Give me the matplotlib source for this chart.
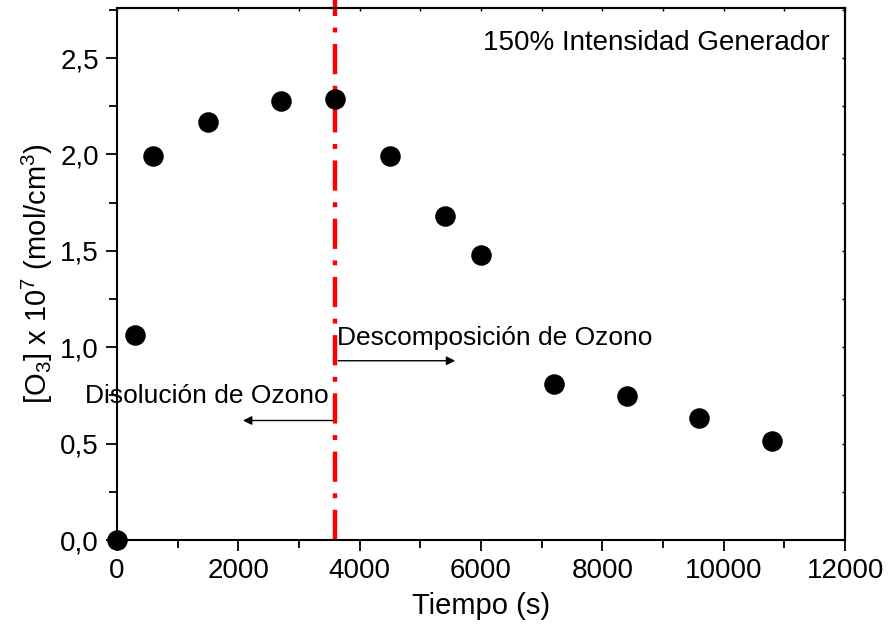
import matplotlib
matplotlib.use("Agg")
import matplotlib.pyplot as plt
from matplotlib.ticker import MultipleLocator, FuncFormatter

# datos
tiempo = [0, 300, 600, 1500, 2700, 3600, 4500, 5400, 6000, 7200, 8400, 9600, 10800]
ozono = [0.0, 1.065, 1.99, 2.17, 2.275, 2.29, 1.99, 1.68, 1.48, 0.81, 0.745, 0.635, 0.515]
t_corte = 3600

plt.rcParams['font.family'] = ['Liberation Sans', 'DejaVu Sans']
plt.rcParams['mathtext.default'] = 'regular'

fig = plt.figure(figsize=(8.89, 6.4), dpi=100)
ax = fig.add_axes([0.1316, 0.15625, 0.819, 0.83125])

ax.scatter(tiempo, ozono, s=190, color='black', zorder=3, clip_on=False)
ax.axvline(t_corte, ymin=0, ymax=1.02, color='red', lw=3.2,
           linestyle=(0, (6.8, 2.6, 1.1, 2.6)), clip_on=False, zorder=2)

ax.annotate('', xy=(5620, 0.93), xytext=(t_corte, 0.93),
            arrowprops=dict(arrowstyle='-|>', color='black', lw=1, mutation_scale=13))
ax.annotate('', xy=(2030, 0.62), xytext=(t_corte, 0.62),
            arrowprops=dict(arrowstyle='-|>', color='black', lw=1, mutation_scale=13))
ax.text(3630, 1.05, 'Descomposición de Ozono', fontsize=19, va='center', ha='left')
ax.text(3480, 0.745, 'Disolución de Ozono', fontsize=19, va='center', ha='right')
ax.text(0.979, 0.934, '150% Intensidad Generador', transform=ax.transAxes,
        fontsize=20, ha='right', va='center')

ax.set_xlim(0, 12000)
ax.set_ylim(0, 2.76)
ax.xaxis.set_major_locator(MultipleLocator(2000))
ax.xaxis.set_minor_locator(MultipleLocator(1000))
ax.yaxis.set_major_locator(MultipleLocator(0.5))
ax.yaxis.set_minor_locator(MultipleLocator(0.25))
ax.yaxis.set_major_formatter(FuncFormatter(lambda v, p: f"{v:.1f}".replace('.', ',')))

ax.tick_params(which='both', direction='out', width=1.3, labelsize=20, pad=5)
ax.tick_params(which='major', length=8)
ax.tick_params(which='minor', length=6)
# ticks pequenos arriba y derecha
ax2 = ax.secondary_xaxis('top')
ax2.xaxis.set_major_locator(MultipleLocator(1000))
ax2.tick_params(direction='in', length=2.5, width=1, labeltop=False)
ax3 = ax.secondary_yaxis('right')
ax3.yaxis.set_major_locator(MultipleLocator(0.25))
ax3.tick_params(direction='in', length=2.5, width=1, labelright=False)
for s in list(ax.spines.values()) + [ax2.spines['top'], ax3.spines['right']]:
    s.set_linewidth(1.5)

ax.set_xlabel('Tiempo (s)', fontsize=21, labelpad=6)
ax.set_ylabel('[O$_3$] x 10$^7$ (mol/cm$^3$)', fontsize=21, labelpad=4)

fig.savefig('out.png', dpi=100)
